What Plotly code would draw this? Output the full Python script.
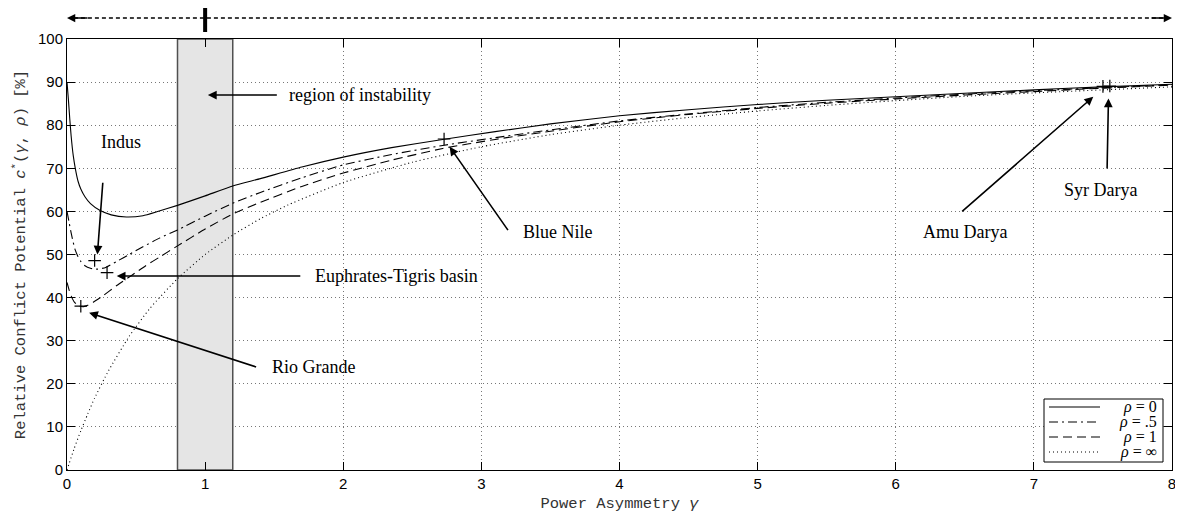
import plotly.graph_objects as go

# ---------------- data ----------------
gamma_r0 = [0.0, 0.01, 0.02, 0.03, 0.045, 0.06, 0.08, 0.1, 0.13, 0.17, 0.24, 0.32, 0.43, 0.55, 0.65, 0.8, 1.0, 1.2, 1.4, 1.7, 2.0, 2.35, 2.72, 3.1, 3.5, 4.0, 4.5, 5.0, 5.5, 6.0, 6.5, 7.0, 7.5, 8.0]
c_r0 = [90.0, 86.0, 81.5, 77.5, 73.0, 70.0, 67.0, 65.2, 63.4, 61.8, 60.2, 59.2, 58.7, 59.0, 59.9, 61.4, 63.6, 65.9, 67.6, 70.3, 72.6, 74.8, 76.7, 78.5, 80.3, 82.2, 83.6, 84.8, 85.8, 86.6, 87.4, 88.2, 88.9, 89.5]

gamma_r05 = [0.0, 0.015, 0.03, 0.045, 0.06, 0.08, 0.1, 0.13, 0.17, 0.22, 0.28, 0.36, 0.45, 0.55, 0.67, 0.8, 1.0, 1.2, 1.4, 1.7, 2.0, 2.35, 2.72, 3.1, 3.5, 4.0, 4.5, 5.0, 5.5, 6.0, 6.5, 7.0, 7.5, 8.0]
c_r05 = [60.0, 57.5, 55.0, 52.8, 51.0, 49.5, 48.4, 47.4, 46.8, 46.6, 47.0, 48.4, 50.0, 51.8, 53.8, 55.7, 58.9, 61.9, 64.4, 67.8, 70.8, 73.2, 75.3, 77.1, 78.9, 81.0, 82.6, 84.1, 85.3, 86.3, 87.2, 88.0, 88.7, 89.4]

gamma_r1 = [0.0, 0.015, 0.03, 0.05, 0.07, 0.09, 0.12, 0.15, 0.19, 0.26, 0.36, 0.47, 0.57, 0.67, 0.8, 1.0, 1.2, 1.4, 1.7, 2.0, 2.35, 2.72, 3.1, 3.5, 4.0, 4.5, 5.0, 5.5, 6.0, 6.5, 7.0, 7.5, 8.0]
c_r1 = [43.5, 41.8, 40.4, 39.1, 38.4, 38.0, 37.9, 38.2, 38.9, 40.4, 42.8, 45.2, 47.4, 49.4, 52.0, 55.9, 59.4, 62.1, 65.8, 68.9, 71.9, 74.6, 76.7, 78.6, 80.8, 82.5, 83.9, 85.1, 86.1, 87.0, 87.8, 88.6, 89.3]

gamma_rinf = [0.0, 0.05, 0.1, 0.15, 0.2, 0.3, 0.45, 0.6, 0.8, 1.0, 1.2, 1.4, 1.6, 2.0, 2.5, 3.0, 3.5, 4.0, 4.5, 5.0, 5.5, 6.0, 6.5, 7.0, 7.5, 8.0]
c_rinf = [0.0, 4.8, 9.1, 13.0, 16.7, 23.0, 31.0, 37.5, 44.4, 50.0, 54.5, 58.3, 61.5, 66.7, 71.4, 75.0, 77.8, 80.0, 81.8, 83.3, 84.6, 85.7, 86.7, 87.5, 88.2, 88.9]

basins = ["Indus", "Euphrates-Tigris basin", "Rio Grande", "Blue Nile", "Amu Darya", "Syr Darya"]
basin_gamma = [0.2, 0.29, 0.1, 2.73, 7.50, 7.55]
basin_c = [48.6, 45.8, 38.0, 76.8, 89.0, 89.1]

legend_labels = ["<i>ρ</i> = 0", "<i>ρ</i> = .5", "<i>ρ</i> = 1", "<i>ρ</i> = ∞"]

x_ticks = [0, 1, 2, 3, 4, 5, 6, 7, 8]
y_ticks = [0, 10, 20, 30, 40, 50, 60, 70, 80, 90, 100]

# ---------------- figure ----------------
# the page body has an 8px margin, so the figure is drawn at (8, 8) in the window
OFF = 8
W, H = 1183 - OFF, 521 - OFF
PLOT_L, PLOT_R, PLOT_T, PLOT_B = 67, 1172, 39, 470     # plot area in window pixels
ML, MT = PLOT_L - OFF, PLOT_T - OFF
PW, PH = PLOT_R - PLOT_L, PLOT_B - PLOT_T
MR, MB = W - ML - PW, H - MT - PH


def px2paper_x(px):
    return (px - PLOT_L) / PW


def px2paper_y(py):
    return (PLOT_B - py) / PH


dash_styles = ["solid", "9px,4px,2px,4px", "9px,5px", "1px,3px"]
series = [(gamma_r0, c_r0), (gamma_r05, c_r05), (gamma_r1, c_r1), (gamma_rinf, c_rinf)]

fig = go.Figure()
for (gx, cy), dsh, name in zip(series, dash_styles, legend_labels):
    fig.add_trace(go.Scatter(
        x=gx, y=cy, mode="lines", name=name, showlegend=False,
        line=dict(color="black", width=1.1, dash=dsh, shape="spline", smoothing=0.5),
        hoverinfo="skip"))

fig.add_trace(go.Scatter(
    x=basin_gamma, y=basin_c, mode="markers", showlegend=False, text=basins,
    marker=dict(symbol="cross-thin", size=9, color="black", line=dict(color="black", width=1.2))))

shapes = []
# region of instability
shapes.append(dict(type="rect", xref="x", yref="y", x0=0.8, x1=1.2, y0=0, y1=100,
                   fillcolor="#e5e5e5", line=dict(color="#505050", width=1.5), layer="between"))

# top dashed double arrow + thick marker at gamma = 1
ytop = px2paper_y(18)
shapes.append(dict(type="line", xref="x", yref="paper", x0=0.05, x1=7.95, y0=ytop, y1=ytop,
                   line=dict(color="black", width=1.5, dash="4px,3px")))
shapes.append(dict(type="line", xref="x", yref="paper", x0=1, x1=1,
                   y0=px2paper_y(32), y1=px2paper_y(5), line=dict(color="black", width=4)))

# manual legend (MATLAB-like)
lx0, lx1, ly0, ly1 = 1044, 1163, 399, 462
shapes.append(dict(type="rect", xref="paper", yref="paper",
                   x0=px2paper_x(lx0), x1=px2paper_x(lx1), y0=px2paper_y(ly1), y1=px2paper_y(ly0),
                   fillcolor="white", line=dict(color="black", width=1), layer="above"))
rows = [407, 422, 437, 452]
annotations = []
for ry, dsh, lab in zip(rows, dash_styles, legend_labels):
    shapes.append(dict(type="line", xref="paper", yref="paper",
                       x0=px2paper_x(1049), x1=px2paper_x(1100), y0=px2paper_y(ry), y1=px2paper_y(ry),
                       line=dict(color="black", width=1.1, dash=dsh), layer="above"))
    annotations.append(dict(xref="paper", yref="paper", x=px2paper_x(1159), y=px2paper_y(ry),
                            text=lab, showarrow=False, xanchor="right", yanchor="middle",
                            font=dict(family="Liberation Serif", size=16, color="black")))

# arrow heads of the top arrow
for xa, ax in [(0, 22), (8, -22)]:
    annotations.append(dict(xref="x", yref="paper", x=xa, y=ytop, ax=ax, ay=0, text="",
                            showarrow=True, arrowhead=2, arrowsize=1.1, arrowwidth=1.5,
                            arrowcolor="black"))

txt_font = dict(family="Liberation Serif", size=18, color="black")


def arrow(tip, tail):
    return dict(xref="x", yref="y", axref="x", ayref="y", x=tip[0], y=tip[1],
                ax=tail[0], ay=tail[1], text="", showarrow=True, arrowhead=2,
                arrowsize=1.1, arrowwidth=1.6, arrowcolor="black", standoff=0)


def label(x, y, t, anchor="left"):
    return dict(xref="x", yref="y", x=x, y=y, text=t, showarrow=False,
                xanchor=anchor, yanchor="middle", font=txt_font)


annotations += [
    arrow((1.02, 87.0), (1.53, 87.0)), label(1.59, 87.0, "region of instability"),
    label(0.39, 76.0, basins[0], "center"), arrow((0.22, 50.0), (0.26, 67.0)),
    arrow((0.36, 45.0), (1.70, 45.0)), label(1.78, 45.0, basins[1]),
    arrow((0.16, 36.5), (1.38, 23.8)), label(1.47, 23.8, basins[2]),
    arrow((2.77, 75.0), (3.20, 55.3)), label(3.29, 55.3, basins[3]),
    arrow((7.43, 86.6), (6.47, 59.7)), label(6.50, 55.2, basins[4], "center"),
    arrow((7.54, 86.2), (7.53, 69.6)), label(7.48, 65.0, basins[5], "center"),
]

axis_common = dict(showline=True, linecolor="black", linewidth=1, mirror="ticks",
                   ticks="inside", ticklen=8, tickcolor="black", tickwidth=1,
                   showgrid=True, gridcolor="#777777", griddash="1px,3px", gridwidth=1,
                   zeroline=False, automargin=False,
                   tickfont=dict(family="Liberation Sans", size=15, color="black"))

title_font = dict(family="Liberation Mono", size=15.5, color="#333")
fig.update_xaxes(range=[0, 8], tickvals=x_ticks, ticktext=[str(v) for v in x_ticks],
                 title=dict(text="Power Asymmetry <i>γ</i>", standoff=6, font=title_font),
                 **axis_common)
fig.update_yaxes(range=[0, 100], tickvals=y_ticks, ticktext=[str(v) for v in y_ticks],
                 title=dict(text="Relative Conflict Potential <i>c</i><sup>*</sup>(<i>γ</i>, <i>ρ</i>) [%]",
                            standoff=8, font=title_font),
                 **axis_common)

fig.update_layout(width=W, height=H, margin=dict(l=ML, r=MR, t=MT, b=MB, autoexpand=False),
                  paper_bgcolor="white", plot_bgcolor="white",
                  shapes=shapes, annotations=annotations, showlegend=False)

fig.write_html("out.html")
